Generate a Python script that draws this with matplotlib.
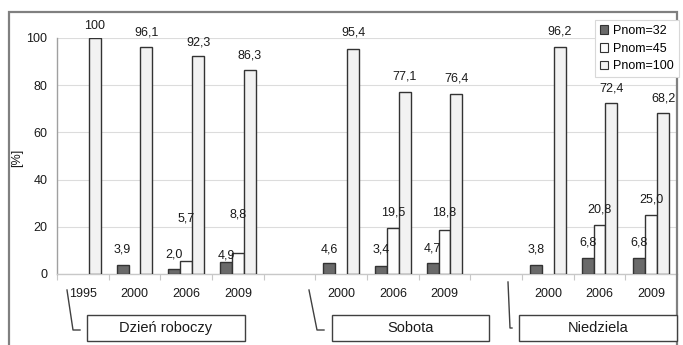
import numpy as np
import matplotlib
matplotlib.use("Agg")
import matplotlib.pyplot as plt
from matplotlib.patches import Rectangle, Patch
from matplotlib.lines import Line2D

plt.rcParams['font.family'] = ['Liberation Sans', 'DejaVu Sans']

# ---------------- data ----------------
categories = ['1995', '2000', '2006', '2009', '', '2000', '2006', '2009', '', '2000', '2006', '2009']
nan = np.nan
p32 = [nan, 3.9, 2.0, 4.9, nan, 4.6, 3.4, 4.7, nan, 3.8, 6.8, 6.8]
p45 = [nan, nan, 5.7, 8.8, nan, nan, 19.5, 18.8, nan, nan, 20.8, 25.0]
p100 = [100, 96.1, 92.3, 86.3, nan, 95.4, 77.1, 76.4, nan, 96.2, 72.4, 68.2]
series_names = ['Pnom=32', 'Pnom=45', 'Pnom=100']
group_names = ['Dzień roboczy', 'Sobota', 'Niedziela']

# label offsets above bar tops (pixels) - styling
off32 = [15, 15, 15, 7, 15, 14, 16, 14, 15, 16, 15, 15]
off45 = [15, 15, 42, 39, 15, 15, 15, 17, 15, 15, 15, 16]
off100 = [12, 15, 14, 15, 15, 16, 16, 15, 15, 15, 15, 15]

W, H = 683, 345
fig = plt.figure(figsize=(W / 100, H / 100), dpi=100)


def fx(x):
    return x / W


def fy(y):
    return 1 - y / H


ax = fig.add_axes([fx(57), fy(274), (677 - 57) / W, 236 / H])

x = np.arange(len(categories))
bw = 0.23
colors = ['#6a6a6a', '#fdfdfd', '#f2f2f2']
all_series = [p32, p45, p100]
all_offs = [off32, off45, off100]
FS = 9


def fmt(v):
    if v == 100:
        return '100'
    return f'{v:.1f}'.replace('.', ',')


for k, (vals, col, offs) in enumerate(zip(all_series, colors, all_offs)):
    xs = x + (k - 1) * bw
    ax.bar(xs, vals, width=bw, color=col, edgecolor='#333333', linewidth=1.0, zorder=3,
           label=series_names[k])
    for xi, v, o in zip(xs, vals, offs):
        if np.isnan(v):
            continue
        ax.annotate(fmt(v), (xi, v), xytext=(0, o * 0.72), textcoords='offset points',
                    ha='center', va='center', fontsize=FS, color='#1a1a1a',
                    annotation_clip=False, zorder=4)

ax.set_xlim(-0.5, len(categories) - 0.5)
ax.set_ylim(0, 100)
ax.set_yticks([0, 20, 40, 60, 80, 100])
ax.set_yticklabels(['0', '20', '40', '60', '80', '100'])
ax.set_xticks(x)
ax.set_xticklabels(categories)
ax.set_xticks(np.arange(-0.5, len(categories)), minor=True)
ax.tick_params(axis='y', length=0, pad=7, labelsize=FS, colors='#1a1a1a')
ax.tick_params(axis='x', which='major', length=0, pad=10, labelsize=FS, colors='#1a1a1a')
ax.tick_params(axis='x', which='minor', length=4, width=0.8, color='#c8c8c8')
ax.yaxis.grid(True, color='#dcdcdc', linewidth=0.8, zorder=0)
ax.set_axisbelow(True)
for s in ['top', 'right']:
    ax.spines[s].set_visible(False)
ax.spines['left'].set_color('#a0a0a0')
ax.spines['left'].set_linewidth(1.0)
ax.spines['bottom'].set_color('#c8c8c8')
ax.spines['bottom'].set_linewidth(1.0)

fig.text(fx(17), fy(158), '[%]', rotation=90, ha='center', va='center', fontsize=FS,
         color='#1a1a1a')

# outer frame
fig.patches.append(Rectangle((fx(9), fy(360)), (677 - 9) / W, (360 - 12) / H,
                             transform=fig.transFigure, fill=False, edgecolor='#808080',
                             linewidth=1.6, zorder=1))

# group boxes and brackets (layout in pixels)
boxes = [(87, 245), (332, 489), (519, 677)]
brackets = [[(67, 290), (73, 330), (80, 330)],
            [(309, 290), (317, 330), (324, 330)],
            [(508, 282), (510, 328), (512, 328)]]
for name, (x0, x1), br in zip(group_names, boxes, brackets):
    fig.patches.append(Rectangle((fx(x0), fy(341)), (x1 - x0) / W, 26 / H,
                                 transform=fig.transFigure, fill=True, facecolor='white',
                                 edgecolor='#404040', linewidth=1.0, zorder=2))
    fig.text(fx((x0 + x1) / 2), fy(328), name, ha='center', va='center', fontsize=10.5,
             color='#1a1a1a', zorder=3)
    fig.lines.append(Line2D([fx(p[0]) for p in br], [fy(p[1]) for p in br],
                            transform=fig.transFigure, color='#404040', linewidth=1.0))

handles = [Patch(facecolor=c, edgecolor='#333333', linewidth=0.8) for c in colors]
leg = fig.legend(handles, series_names, loc='upper right',
                 bbox_to_anchor=(fx(679), fy(20)), fontsize=9, frameon=True,
                 fancybox=False, framealpha=1, edgecolor='#d8d8d8',
                 handlelength=0.7, handleheight=0.7, handletextpad=0.4,
                 labelspacing=0.45, borderpad=0.4, borderaxespad=0)
leg.set_zorder(10)
leg.get_frame().set_linewidth(0.8)

fig.savefig('out.png', dpi=100)
